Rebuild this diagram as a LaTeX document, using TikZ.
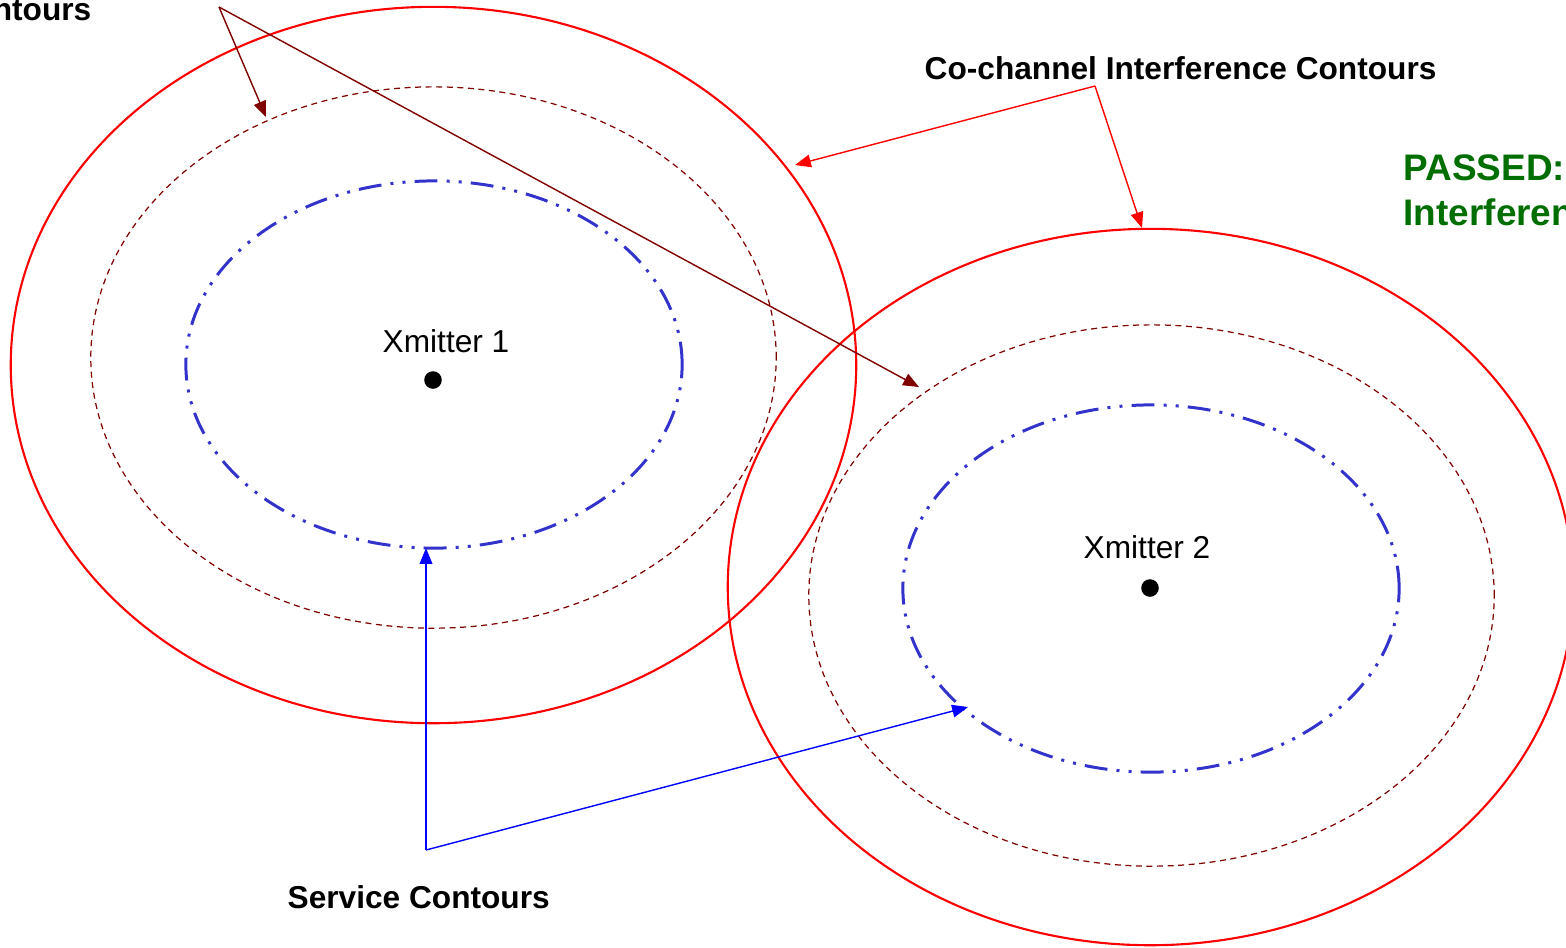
\documentclass[tikz,border=0pt]{standalone}
\usepackage{fontspec}
\setmainfont{Liberation Sans}
\usetikzlibrary{arrows.meta}
\definecolor{cochan}{RGB}{255,0,0}
\definecolor{adjchan}{RGB}{128,0,0}
\definecolor{servc}{RGB}{51,51,204}
\definecolor{servarrow}{RGB}{0,0,255}
\definecolor{passgreen}{RGB}{0,110,0}
\tikzset{
  cocontour/.style={draw=cochan, line width=0.6pt},
  adjcontour/.style={draw=adjchan, line width=0.35pt, dash pattern=on 1.7pt off 1.3pt},
  servcontour/.style={draw=servc, line width=0.85pt,
    dash pattern=on 6.5pt off 2.6pt on 0.85pt off 2.6pt on 0.85pt off 2.6pt},
  pointer/.style={line width=0.4pt, -{Triangle[length=4.5pt,width=3.6pt]}},
  caption/.style={font=\fontsize{9}{11}\selectfont\bfseries, inner sep=0pt},
  sitelabel/.style={font=\fontsize{9}{11}\selectfont, inner sep=0pt},
  verdict/.style={font=\fontsize{10.5}{12.8}\selectfont\bfseries, text=passgreen, inner sep=0pt},
  site/.style={circle, fill=black, inner sep=0pt, minimum size=5pt},
}
\begin{document}
\begin{tikzpicture}[x=0.01cm, y=-0.01cm]
\useasboundingbox (0,0) rectangle (1566,947);

% transmitter sites
\node[site] (tx1) at (433,380) {};
\node[site] (tx2) at (1150,588) {};
\node[sitelabel, anchor=base west] (tx1lbl) at (382,352) {Xmitter 1};
\node[sitelabel, anchor=base west] (tx2lbl) at (1083,558) {Xmitter 2};

% contours around transmitter 1
\draw[cocontour]   (433.5,365)   ellipse [x radius=4.225cm, y radius=3.58cm];
\draw[adjcontour]  (433.5,357.5) ellipse [x radius=3.425cm, y radius=2.705cm];
\draw[servcontour] (434,364.5)   ellipse [x radius=2.48cm,  y radius=1.835cm];

% contours around transmitter 2
\draw[cocontour]   (1150.5,587)  ellipse [x radius=4.225cm, y radius=3.58cm];
\draw[adjcontour]  (1151.5,595.5) ellipse [x radius=3.425cm, y radius=2.705cm];
\draw[servcontour] (1151,588.5)  ellipse [x radius=2.48cm,  y radius=1.835cm];

% captions
\node[caption, anchor=base east] (adjlbl) at (92,20) {ntours};
\node[caption, anchor=base west] (colbl) at (924,79) {Co-channel Interference Contours};
\node[caption, anchor=base west] (svclbl) at (287,908) {Service Contours};
\node[verdict, anchor=base west] (pass1) at (1403,180) {PASSED:};
\node[verdict, anchor=base west] (pass2) at (1403,225) {Interference};

% pointer hubs and targets
\coordinate (adjhub) at (219,7);
\coordinate (adjA) at (266,117);
\coordinate (adjB) at (919,387);
\coordinate (cohub) at (1095,86);
\coordinate (coA) at (795,165);
\coordinate (coB) at (1142,228);
\coordinate (svchub) at (426,850);
\coordinate (svcA) at (426,548);
\coordinate (svcB) at (968,707);

\draw[pointer, adjchan] (adjhub) -- (adjA);
\draw[pointer, adjchan] (adjhub) -- (adjB);
\draw[pointer, cochan] (cohub) -- (coA);
\draw[pointer, cochan] (cohub) -- (coB);
\draw[pointer, servarrow] (svchub) -- (svcA);
\draw[pointer, servarrow] (svchub) -- (svcB);
\end{tikzpicture}
\end{document}
